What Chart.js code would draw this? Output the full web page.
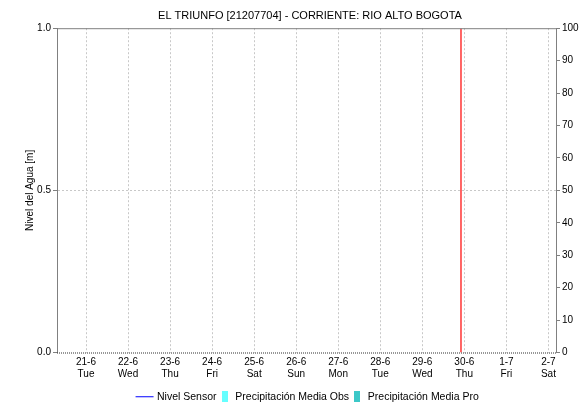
<!DOCTYPE html>
<html>
<head>
<meta charset="utf-8">
<script src="https://cdn.jsdelivr.net/npm/chart.js@4/dist/chart.umd.min.js"></script>
<style>
  html, body { margin: 0; padding: 0; background: #fff; overflow: hidden; }
  #wrap { width: 588px; height: 403px; overflow: hidden; }
</style>
</head>
<body>
<div id="wrap"><canvas id="myChart" width="620" height="403"></canvas></div>
<script>
var chartTitle = "EL TRIUNFO [21207704] - CORRIENTE: RIO ALTO BOGOTA";
var dayLabels = ["21-6", "22-6", "23-6", "24-6", "25-6", "26-6", "27-6", "28-6", "29-6", "30-6", "1-7", "2-7"];
var weekdayLabels = ["Tue", "Wed", "Thu", "Fri", "Sat", "Sun", "Mon", "Tue", "Wed", "Thu", "Fri", "Sat"];
var nivelTicks = [0, 0.5, 1];
var precipTicks = [0, 10, 20, 30, 40, 50, 60, 70, 80, 90, 100];

// series are empty in the picture
var nivelSensor = [];
var precipObs = [];
var precipPro = [];
// current time marker (days after 21-6)
var nowMarker = 8.92;

var gridGray = "#c8c8c8";
var axisGray = "#808080";
var font = { family: "Liberation Sans, Arial", size: 10 };

// small legend swatches
function swatch(w, h, draw) {
  var c = document.createElement("canvas");
  c.width = w;
  c.height = h;
  draw(c.getContext("2d"));
  return c;
}
var lineSwatch = swatch(24, 11, function (g) {
  g.fillStyle = "#0000ff";
  g.fillRect(1, 5, 18, 1);
});
var obsSwatch = swatch(6, 11, function (g) {
  g.fillStyle = "#66ffff";
  g.fillRect(0, 0, 6, 11);
});
var proSwatch = swatch(6, 11, function (g) {
  g.fillStyle = "#3cc8c8";
  g.fillRect(0, 0, 6, 11);
});

var frame = {
  id: "frame",
  afterDraw: function (c) {
    var a = c.chartArea;
    var ctx = c.ctx;
    ctx.save();
    ctx.lineWidth = 1;
    ctx.strokeStyle = axisGray;
    ctx.beginPath();
    ctx.moveTo(a.left, a.top + 0.5);
    ctx.lineTo(a.right, a.top + 0.5);
    ctx.stroke();
    // dotted bottom axis line
    ctx.strokeStyle = "#303030";
    ctx.setLineDash([1, 1]);
    ctx.beginPath();
    ctx.moveTo(a.left, a.bottom + 0.5);
    ctx.lineTo(a.right, a.bottom + 0.5);
    ctx.stroke();
    ctx.restore();
  }
};

var ctx = document.getElementById("myChart").getContext("2d");
var chart = new Chart(ctx, {
  data: {
    datasets: [
      {
        type: "line",
        label: "Nivel Sensor",
        data: nivelSensor,
        borderColor: "#0000ff",
        backgroundColor: "#0000ff",
        borderWidth: 1,
        pointRadius: 0,
        yAxisID: "y",
      },
      {
        type: "bar",
        label: "Precipitación Media Obs",
        data: precipObs,
        backgroundColor: "#66ffff",
        borderWidth: 0,
        yAxisID: "y2",
      },
      {
        type: "bar",
        label: "Precipitación Media Pro",
        data: precipPro,
        backgroundColor: "#3cc8c8",
        borderWidth: 0,
        yAxisID: "y2",
      },
      {
        type: "line",
        label: "now",
        data: [{ x: nowMarker, y: 0 }, { x: nowMarker, y: 1 }],
        borderColor: "#ff0000",
        borderWidth: 1.2,
        pointRadius: 0,
        yAxisID: "y",
      },
    ],
  },
  plugins: [frame],
  options: {
    responsive: false,
    animation: false,
    layout: { padding: { top: 4, left: 0, right: 0, bottom: -9 } },
    plugins: {
      title: {
        display: true,
        text: chartTitle,
        color: "#000",
        font: { family: "Liberation Sans, Arial", size: 11, weight: "normal" },
        padding: { top: 5, bottom: 6 },
      },
      legend: {
        position: "bottom",
        labels: {
          usePointStyle: true,
          color: "#000",
          font: { family: "Liberation Sans, Arial", size: 10.5 },
          padding: 3,
          generateLabels: function (c) {
            var styles = [lineSwatch, obsSwatch, proSwatch];
            return c.data.datasets.slice(0, 3).map(function (ds, i) {
              return {
                text: ds.label,
                datasetIndex: i,
                fillStyle: ds.backgroundColor,
                strokeStyle: ds.backgroundColor,
                lineWidth: 0,
                pointStyle: styles[i],
                fontColor: "#000",
              };
            });
          },
        },
      },
      tooltip: { enabled: false },
    },
    scales: {
      x: {
        type: "linear",
        min: -0.69,
        max: 11.18,
        offset: false,
        afterBuildTicks: function (s) {
          s.ticks = dayLabels.map(function (d, i) { return { value: i }; });
        },
        afterFit: function (s) { s.height = 36; },
        ticks: {
          color: "#000",
          font: font,
          padding: 4,
          maxRotation: 0,
          autoSkip: false,
          callback: function (v) { return [dayLabels[v], weekdayLabels[v]]; },
        },
        grid: { color: gridGray, offset: false, drawTicks: false },
        border: { display: false, dash: [2, 2] },
      },
      y: {
        position: "left",
        min: 0,
        max: 1,
        afterBuildTicks: function (s) {
          s.ticks = nivelTicks.map(function (v) { return { value: v }; });
        },
        afterFit: function (s) { s.width = 57; },
        title: {
          display: true,
          text: "Nivel del Agua [m]",
          color: "#000",
          font: font,
          padding: { top: 24, bottom: 0 },
        },
        ticks: {
          color: "#000",
          font: font,
          padding: 2,
          callback: function (v) { return v.toFixed(1); },
        },
        grid: {
          color: function (c) { return c.tick && c.tick.value === 0.5 ? gridGray : "rgba(0,0,0,0)"; },
          tickColor: axisGray,
          tickLength: 4,
        },
        border: { color: axisGray, dash: [2, 2] },
      },
      y2: {
        position: "right",
        min: 0,
        max: 100,
        afterBuildTicks: function (s) {
          s.ticks = precipTicks.map(function (v) { return { value: v }; });
        },
        afterFit: function (s) { s.width = 64; },
        title: {
          display: true,
          text: "Precipitación [mm]",
          color: "#000",
          font: font,
          padding: { top: 0, bottom: 26 },
        },
        ticks: { color: "#000", font: font, padding: 2 },
        grid: { drawOnChartArea: false, tickColor: axisGray, tickLength: 4 },
        border: { color: axisGray },
      },
    },
  },
});
</script>
</body>
</html>
